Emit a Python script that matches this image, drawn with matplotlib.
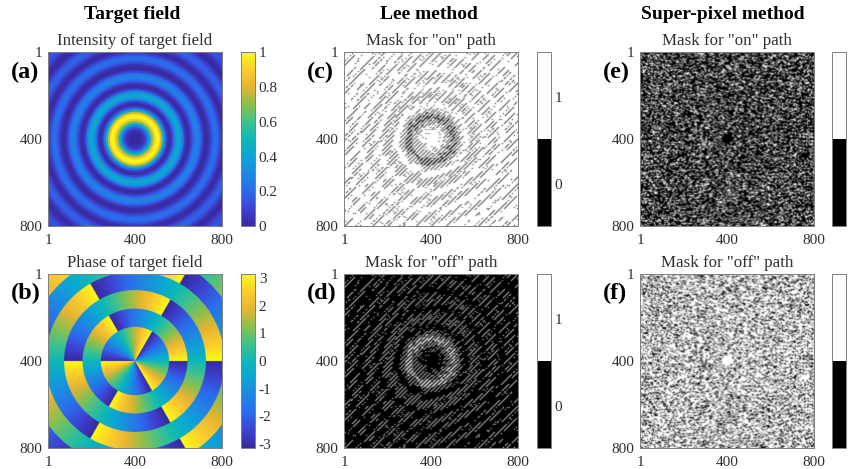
import numpy as np
import matplotlib
matplotlib.use('Agg')
import matplotlib.pyplot as plt
from matplotlib.colors import LinearSegmentedColormap, ListedColormap, BoundaryNorm
from matplotlib.cm import ScalarMappable

plt.rcParams['font.family'] = ['Liberation Serif', 'DejaVu Serif']
plt.rcParams['axes.unicode_minus'] = False

W, H = 848, 469

# intensity, one value every 10 image pixels from the centre
radial_step = 10
radial_intensity = [
    0.00, 0.00, 0.00, 0.02, 0.05, 0.13, 0.28, 0.50, 0.72, 0.90,
    1.00, 0.97, 0.78, 0.48, 0.21, 0.06, 0.01, 0.09, 0.24, 0.38,
    0.43, 0.38, 0.24, 0.08, 0.01, 0.03, 0.11, 0.21, 0.28, 0.27,
    0.20, 0.10, 0.02, 0.01, 0.05, 0.12, 0.19, 0.22, 0.19, 0.12,
    0.05, 0.01, 0.03, 0.09, 0.15, 0.18, 0.17, 0.12, 0.06, 0.01,
    0.01, 0.04, 0.09, 0.13, 0.15, 0.14, 0.10, 0.05,
]
# dark rings, the phase jumps by pi across each one
ring_edges = [157, 241, 326, 411, 495]
vortex_order = 3

image_ticks = [1, 400, 800]
intensity_ticks = [0, 0.2, 0.4, 0.6, 0.8, 1]
intensity_tick_labels = ['0', '0.2', '0.4', '0.6', '0.8', '1']
phase_ticks = [-3, -2, -1, 0, 1, 2, 3]
phase_tick_labels = ['-3', '-2', '-1', '0', '1', '2', '3']
mask_ticks = [0, 1]

column_titles = ['Target field', 'Lee method', 'Super-pixel method']
panel_titles = ['Intensity of target field', 'Phase of target field',
                'Mask for "on" path', 'Mask for "off" path',
                'Mask for "on" path', 'Mask for "off" path']
panel_letters = ['(a)', '(b)', '(c)', '(d)', '(e)', '(f)']

parula_colors = [
    (0.22, 0.16, 0.62), (0.24, 0.26, 0.82), (0.17, 0.42, 0.93), (0.12, 0.53, 0.88),
    (0.05, 0.64, 0.84), (0.05, 0.72, 0.72), (0.25, 0.76, 0.55), (0.55, 0.75, 0.30),
    (0.90, 0.71, 0.20), (0.99, 0.80, 0.18), (0.98, 0.98, 0.08),
]
parula = LinearSegmentedColormap.from_list('parula', parula_colors)
mask_cmap = ListedColormap(['black', 'white'])
mask_norm = BoundaryNorm([-0.5, 0.53, 1.5], 2)
TEXT = '#303030'
EDGE = '#808080'


def px_axes(fig, left, right, top, bottom):
    return fig.add_axes([left / W, 1 - bottom / H, (right - left) / W, (bottom - top) / H])


def target_field(x, y):
    dx, dy = x - 400.5, y - 400.5
    r = np.hypot(dx, dy)
    index = np.clip(np.rint(r / radial_step).astype(int), 0, len(radial_intensity) - 1)
    intensity = np.array(radial_intensity)[index]
    flips = np.searchsorted(ring_edges, r)
    phase = vortex_order * np.arctan2(dy, dx) + np.pi * flips
    return intensity, np.angle(np.exp(1j * phase))


def lee_mask(x, y, intensity, phase, period=17):
    # binary grating, duty cycle set by the amplitude
    duty = np.arcsin(np.sqrt(intensity)) / np.pi
    return (np.cos(2 * np.pi * (x + y) / period + phase) > np.cos(np.pi * duty)).astype(float)


def super_pixel_mask(intensity, phase, block=4, scale=1.6, bin_size=0.04):
    # each 4x4 block takes the mirror subset whose summed field is nearest the target
    j, i = np.mgrid[0:block, 0:block]
    mirror = np.exp(2j * np.pi * (i + block * j).ravel() / block ** 2)
    codes = np.arange(2 ** (block ** 2))
    bits = ((codes[:, None] >> np.arange(block ** 2)) & 1).astype(bool)
    count = bits.sum(axis=1)
    keep = (count == 0) | ((count >= 3) & (count <= 5))
    bits = bits[keep]
    fields = bits @ mirror

    small_i = intensity[block // 2::block, block // 2::block]
    small_p = phase[block // 2::block, block // 2::block]
    row, col = np.mgrid[0:small_i.shape[0], 0:small_i.shape[1]]
    target = scale * np.sqrt(small_i) * np.exp(1j * (small_p + 2 * np.pi * (0.37 * row + 0.61 * col)))
    binned = np.rint(target.real / bin_size) + 1j * np.rint(target.imag / bin_size)
    unique, inverse = np.unique(binned, return_inverse=True)
    choice = np.array([np.argmin(np.abs(fields - u * bin_size)) for u in unique])
    chosen = bits[choice[inverse.ravel()]].reshape(small_i.shape + (block, block))
    return chosen.transpose(0, 2, 1, 3).reshape(small_i.shape[0] * block, -1).astype(float)


def screen_sample(image, size=174, soft=0.16):
    # binary mask as the screen shows it: every 4-5th mirror, softened afterwards
    index = np.rint(np.linspace(0, image.shape[0] - 1, size)).astype(int)
    sampled = image[index][:, index]
    for axis in (0, 1):
        pad = np.pad(sampled, [(1, 1) if a == axis else (0, 0) for a in (0, 1)], mode='edge')
        before = np.take(pad, range(0, size), axis=axis)
        after = np.take(pad, range(2, size + 2), axis=axis)
        sampled = (1 - 2 * soft) * sampled + soft * (before + after)
    return sampled


def style_image_ax(ax, image, cmap, vmin, vmax, interpolation='antialiased'):
    ax.imshow(image, cmap=cmap, vmin=vmin, vmax=vmax, extent=(1, 800, 800, 1),
              aspect='auto', interpolation=interpolation)
    ax.set_xticks(image_ticks)
    ax.set_yticks(image_ticks)
    ax.tick_params(length=0, labelsize=11, labelcolor=TEXT, pad=4)
    ax.tick_params(axis='x', pad=6)
    for spine in ax.spines.values():
        spine.set_color(EDGE)
        spine.set_linewidth(0.7)


y_grid, x_grid = np.mgrid[1:801, 1:801]
intensity, phase = target_field(x_grid, y_grid)
lee_off = lee_mask(x_grid, y_grid, intensity, phase)
super_on = super_pixel_mask(intensity, phase)

images = [intensity, phase, 1 - lee_off, lee_off, super_on, 1 - super_on]
mask_soft = {2: 0.16, 3: 0.16, 4: 0.21, 5: 0.21}

fig = plt.figure(figsize=(W / 100, H / 100), dpi=100)

column_left = [48.3, 344, 640]
column_right = [221.7, 518.3, 814.3]
bar_left = [240.7, 536.7, 832]
row_top = [52.3, 274.3]
row_bottom = [226, 447.7]
letter_x = [11, 307, 603]
letter_y = [72, 293]
title_x = [132, 429, 723]

for col in range(3):
    fig.text(title_x[col] / W, 1 - 14.7 / H, column_titles[col], fontsize=14, fontweight='bold',
             color='black', ha='center', va='center')
    for row in range(2):
        n = col * 2 + row
        ax = px_axes(fig, column_left[col], column_right[col], row_top[row], row_bottom[row])
        cax = px_axes(fig, bar_left[col], bar_left[col] + 14, row_top[row], row_bottom[row])
        if n == 0:
            style_image_ax(ax, images[n], parula, 0, 1)
            sm = ScalarMappable(cmap=parula, norm=plt.Normalize(0, 1))
            ticks, labels = intensity_ticks, intensity_tick_labels
        elif n == 1:
            style_image_ax(ax, images[n], parula, -np.pi, np.pi)
            sm = ScalarMappable(cmap=parula, norm=plt.Normalize(-np.pi, np.pi))
            ticks, labels = phase_ticks, phase_tick_labels
        else:
            style_image_ax(ax, screen_sample(images[n], soft=mask_soft[n]), 'gray', 0, 1,
                           interpolation='bilinear')
            sm = ScalarMappable(cmap=mask_cmap, norm=mask_norm)
            ticks, labels = mask_ticks, ['0', '1']
        bar = fig.colorbar(sm, cax=cax, ticks=ticks)
        # third column: the picture ends right after the bar, labels are not shown there
        bar.ax.set_yticklabels(labels if col < 2 else [])
        bar.ax.minorticks_off()
        bar.ax.tick_params(which='both', length=0, labelsize=11, labelcolor=TEXT, pad=3)
        bar.outline.set_edgecolor(EDGE)
        bar.outline.set_linewidth(0.7)
        fig.text((column_left[col] + column_right[col]) / 2 / W, 1 - (row_top[row] - 11.6) / H,
                 panel_titles[n], fontsize=12.2, color=TEXT, ha='center', va='center')
        fig.text(letter_x[col] / W, 1 - letter_y[row] / H, panel_letters[n], fontsize=17.5,
                 fontweight='bold', color='black', ha='left', va='center')

fig.savefig('out.png', dpi=100)
